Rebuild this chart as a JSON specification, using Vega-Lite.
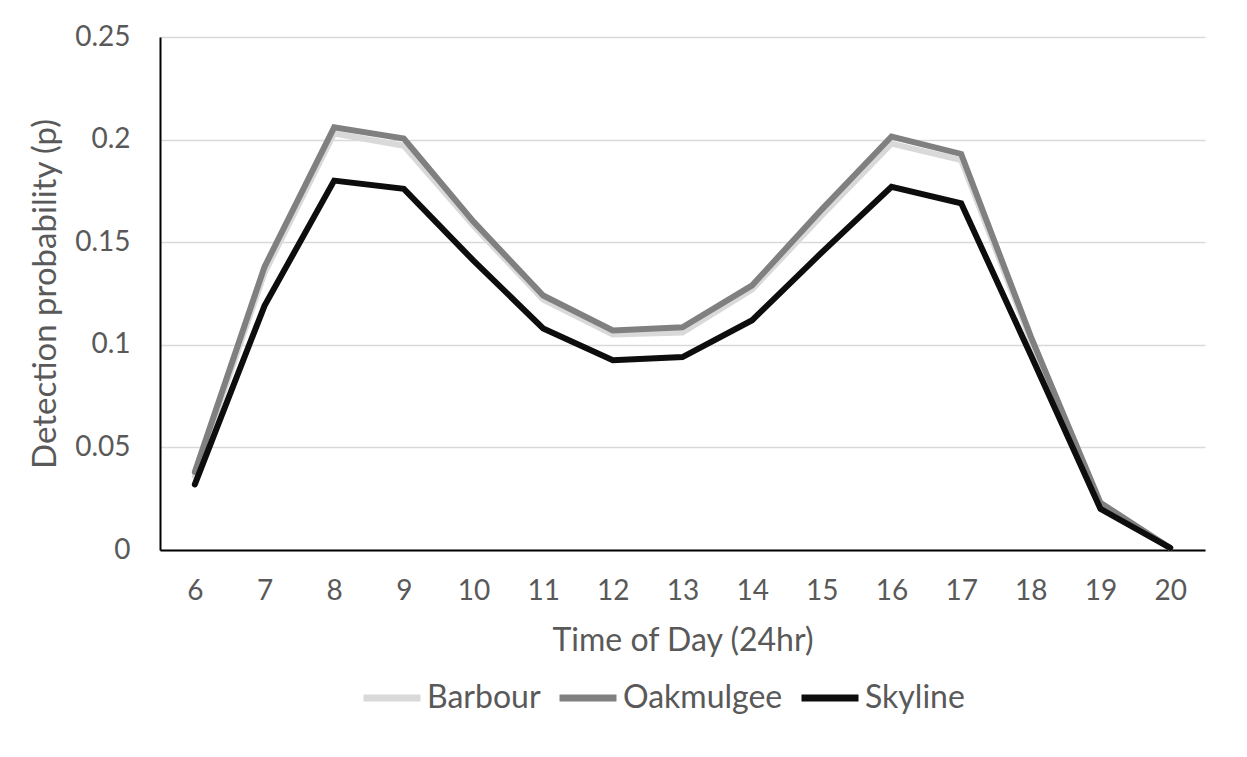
{
  "$schema": "https://vega.github.io/schema/vega-lite/v6.json",
  "width": 1045,
  "height": 513,
  "autosize": "none",
  "padding": {"left": 160, "top": 37, "right": 42, "bottom": 207},
  "background": "white",
  "config": {
    "font": "Lato",
    "view": {"stroke": null}
  },
  "data": {
    "values": [
      {"hour": 6, "site": "Barbour", "p": 0.036},
      {"hour": 7, "site": "Barbour", "p": 0.135},
      {"hour": 8, "site": "Barbour", "p": 0.203},
      {"hour": 9, "site": "Barbour", "p": 0.197},
      {"hour": 10, "site": "Barbour", "p": 0.158},
      {"hour": 11, "site": "Barbour", "p": 0.122},
      {"hour": 12, "site": "Barbour", "p": 0.105},
      {"hour": 13, "site": "Barbour", "p": 0.106},
      {"hour": 14, "site": "Barbour", "p": 0.127},
      {"hour": 15, "site": "Barbour", "p": 0.163},
      {"hour": 16, "site": "Barbour", "p": 0.198},
      {"hour": 17, "site": "Barbour", "p": 0.190},
      {"hour": 18, "site": "Barbour", "p": 0.102},
      {"hour": 19, "site": "Barbour", "p": 0.022},
      {"hour": 20, "site": "Barbour", "p": 0.001},
      {"hour": 6, "site": "Oakmulgee", "p": 0.038},
      {"hour": 7, "site": "Oakmulgee", "p": 0.138},
      {"hour": 8, "site": "Oakmulgee", "p": 0.206},
      {"hour": 9, "site": "Oakmulgee", "p": 0.2005},
      {"hour": 10, "site": "Oakmulgee", "p": 0.160},
      {"hour": 11, "site": "Oakmulgee", "p": 0.124},
      {"hour": 12, "site": "Oakmulgee", "p": 0.107},
      {"hour": 13, "site": "Oakmulgee", "p": 0.1085},
      {"hour": 14, "site": "Oakmulgee", "p": 0.129},
      {"hour": 15, "site": "Oakmulgee", "p": 0.166},
      {"hour": 16, "site": "Oakmulgee", "p": 0.2015},
      {"hour": 17, "site": "Oakmulgee", "p": 0.193},
      {"hour": 18, "site": "Oakmulgee", "p": 0.104},
      {"hour": 19, "site": "Oakmulgee", "p": 0.023},
      {"hour": 20, "site": "Oakmulgee", "p": 0.001},
      {"hour": 6, "site": "Skyline", "p": 0.032},
      {"hour": 7, "site": "Skyline", "p": 0.119},
      {"hour": 8, "site": "Skyline", "p": 0.180},
      {"hour": 9, "site": "Skyline", "p": 0.176},
      {"hour": 10, "site": "Skyline", "p": 0.141},
      {"hour": 11, "site": "Skyline", "p": 0.108},
      {"hour": 12, "site": "Skyline", "p": 0.0925},
      {"hour": 13, "site": "Skyline", "p": 0.094},
      {"hour": 14, "site": "Skyline", "p": 0.112},
      {"hour": 15, "site": "Skyline", "p": 0.145},
      {"hour": 16, "site": "Skyline", "p": 0.177},
      {"hour": 17, "site": "Skyline", "p": 0.169},
      {"hour": 18, "site": "Skyline", "p": 0.095},
      {"hour": 19, "site": "Skyline", "p": 0.020},
      {"hour": 20, "site": "Skyline", "p": 0.001}
    ]
  },
  "mark": {"type": "line", "strokeWidth": 6, "strokeJoin": "miter", "strokeCap": "round"},
  "encoding": {
    "x": {
      "field": "hour",
      "type": "ordinal",
      "scale": {"type": "point", "padding": 0.5},
      "axis": {
        "title": "Time of Day (24hr)",
        "labelAngle": 0,
        "labelFontSize": 28,
        "labelColor": "#595959",
        "labelPadding": 27,
        "ticks": false,
        "grid": false,
        "domainColor": "#000000",
        "domainWidth": 2,
        "titleFontSize": 32,
        "titleFontWeight": "normal",
        "titleColor": "#595959",
        "titlePadding": 20
      }
    },
    "y": {
      "field": "p",
      "type": "quantitative",
      "scale": {"domain": [0, 0.25], "nice": false},
      "axis": {
        "title": "Detection probability (p)",
        "values": [0, 0.05, 0.1, 0.15, 0.2, 0.25],
        "format": ".2~f",
        "labelFontSize": 28,
        "labelColor": "#595959",
        "labelPadding": 30,
        "ticks": false,
        "grid": true,
        "gridColor": "#d9d9d9",
        "gridWidth": 1.5,
        "domainColor": "#000000",
        "domainWidth": 2,
        "titleFontSize": 33,
        "titleFontWeight": "normal",
        "titleColor": "#595959",
        "titlePadding": 12
      }
    },
    "color": {
      "field": "site",
      "type": "nominal",
      "scale": {"domain": ["Barbour", "Oakmulgee", "Skyline"], "range": ["#d9d9d9", "#808080", "#0d0d0d"]},
      "legend": {
        "title": null,
        "orient": "none",
        "legendX": 200,
        "legendY": 629,
        "direction": "horizontal",
        "gridAlign": "none",
        "symbolType": "stroke",
        "symbolSize": 3249,
        "symbolStrokeWidth": 7,
        "labelFontSize": 32,
        "labelLimit": 400,
        "labelColor": "#595959",
        "labelOffset": 3,
        "columnPadding": 4
      }
    }
  }
}
